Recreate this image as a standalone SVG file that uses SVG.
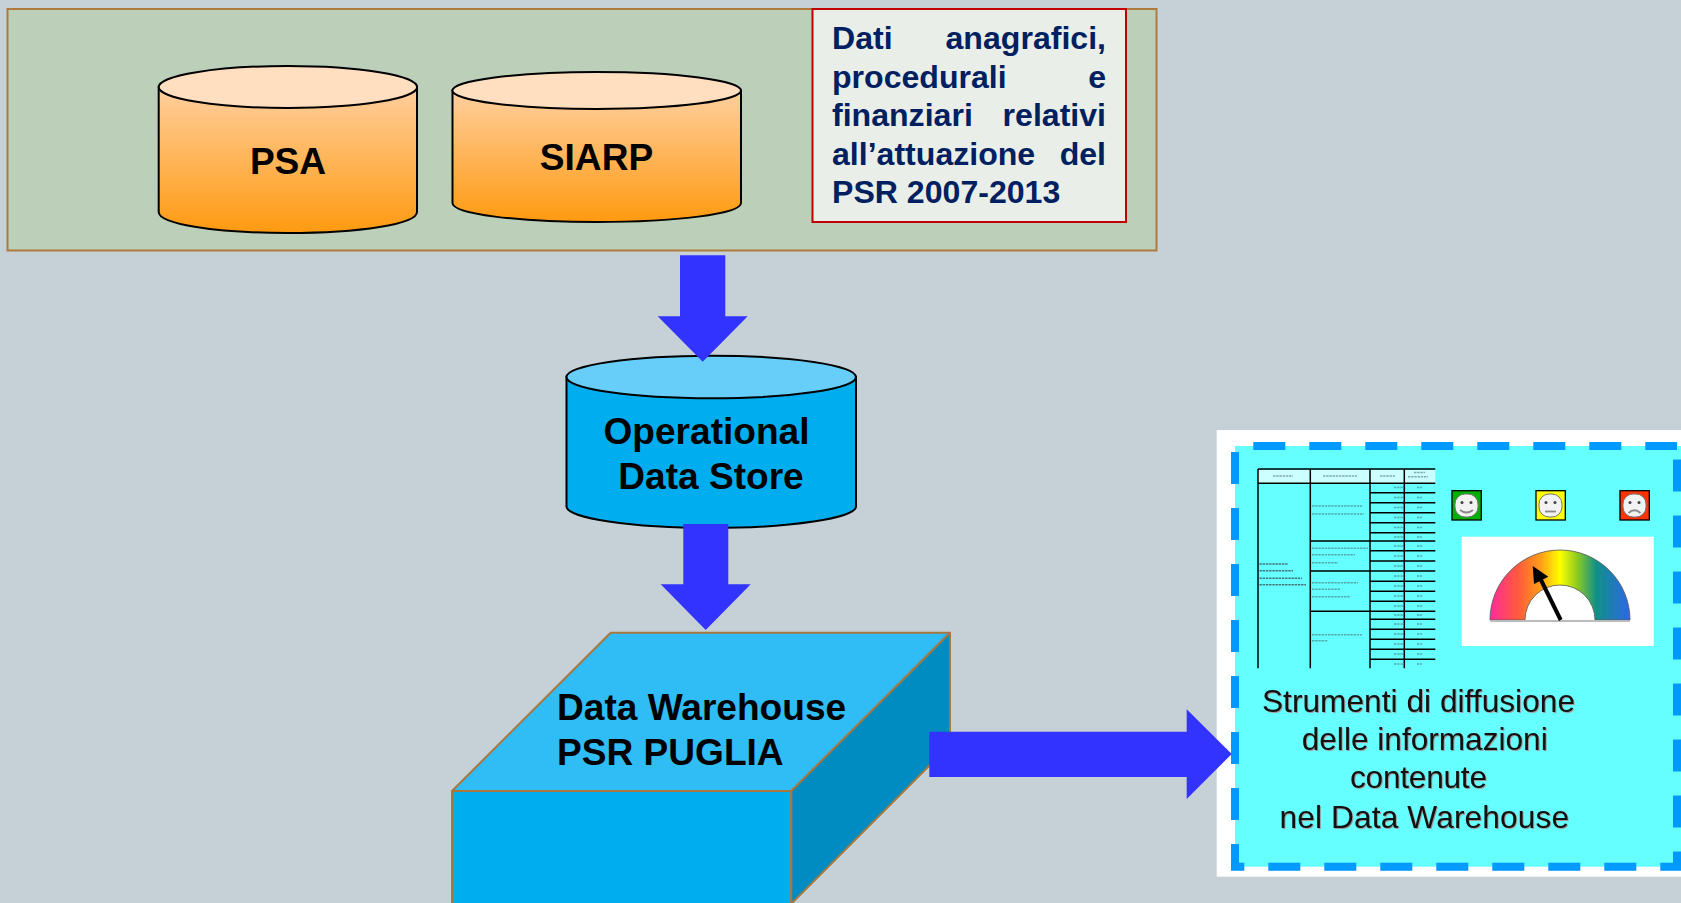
<svg xmlns="http://www.w3.org/2000/svg" width="1681" height="903" viewBox="0 0 1681 903">
<style>
text{font-family:"Liberation Sans",Arial,sans-serif}
.lbl{font-size:37.1px;font-weight:700;fill:#000}
.mid{text-anchor:middle}
.info{font-size:32.1px;font-weight:700;fill:#002060}
.cyl{stroke:#000;stroke-width:2}
.box{stroke:#a8773f;stroke-width:2;stroke-linejoin:round}
.arrow{fill:#3333ff}
.dash{fill:none;stroke:#0099ff;stroke-width:8;stroke-dasharray:32 24}
.grid{fill:none;stroke:#000;stroke-width:1.5}
.greek{fill:none;stroke:#3f666c;stroke-width:1.4;stroke-dasharray:2.4 .8;opacity:.55}
.smile{stroke:#000;stroke-width:1.3}
.face{fill:#f2f2f2;stroke:#777;stroke-width:1}
.eye{fill:#444}
.mouth{fill:none;stroke:#888;stroke-width:1.8}
.cap{font-size:31.6px;fill:#111;filter:drop-shadow(1px 1px 0.4px #999)}
.soft{filter:url(#soft)}
</style>
<defs>
<linearGradient id="org" x1="0" y1="0" x2="0" y2="1"><stop offset="0" stop-color="#ffcf9f"/><stop offset="1" stop-color="#ff9a10"/></linearGradient>
<linearGradient id="rain" gradientUnits="userSpaceOnUse" x1="1490" y1="0" x2="1630" y2="0">
<stop offset="0" stop-color="#ff2a9d"/><stop offset=".2" stop-color="#ff5a3c"/><stop offset=".36" stop-color="#ff9c18"/><stop offset=".5" stop-color="#ffff00"/><stop offset=".62" stop-color="#90cc20"/><stop offset=".76" stop-color="#109088"/><stop offset="1" stop-color="#2f66e8"/>
</linearGradient>
<filter id="soft" x="-5%" y="-5%" width="110%" height="110%"><feGaussianBlur stdDeviation="0.5"/></filter>
</defs>
<rect width="1681" height="903" fill="#c5d0d7"/>

<g id="panel-sources"><rect x="7.500" y="9" width="1149" height="241.500" fill="#bbcfb9" stroke="#b07a3c" stroke-width="2"/></g>

<g id="node-psa">
<path class="cyl" fill="url(#org)" d="M158.700 87V212C158.700 224 216 233 288 233S417 224 417 212V87Z"/>
<ellipse class="cyl" cx="287.900" cy="87" rx="129.200" ry="21" fill="#ffdfc0"/>
<text class="lbl mid" x="288" y="174">PSA</text>
</g>
<g id="node-siarp">
<path class="cyl" fill="url(#org)" d="M452.500 90.500V203C452.500 214 518 222 596.700 222S741 214 741 203V90.500Z"/>
<ellipse class="cyl" cx="596.700" cy="90.500" rx="144.300" ry="18.500" fill="#ffdfc0"/>
<text class="lbl mid" x="596.500" y="170">SIARP</text>
</g>
<g id="node-info">
<rect x="812.500" y="9" width="313.500" height="213" fill="#e9eee9" stroke="#c00000" stroke-width="2"/>
<text class="info" y="49.300"><tspan x="832">Dati </tspan><tspan x="1106" text-anchor="end">anagrafici,</tspan></text>
<text class="info" y="88"><tspan x="832">procedurali </tspan><tspan x="1106" text-anchor="end">e</tspan></text>
<text class="info" y="126"><tspan x="832">finanziari </tspan><tspan x="1106" text-anchor="end">relativi</tspan></text>
<text class="info" y="165"><tspan x="832">all’attuazione </tspan><tspan x="1106" text-anchor="end">del</tspan></text>
<text class="info" x="832" y="203.300">PSR 2007-2013</text>
</g>
<g id="node-ods">
<path class="cyl" fill="#00aeef" d="M566.500 377V506.500C566.500 518 631 528 711 528S856 518 856 506.500V377Z"/>
<ellipse class="cyl" cx="711.200" cy="377" rx="144.700" ry="21.300" fill="#66cef8"/>
<text class="lbl mid" x="706.500" y="444.200">Operational</text>
<text class="lbl mid" x="711" y="489.200">Data Store</text>
</g>
<g id="node-dw">
<polygon class="box" fill="#00aeef" points="452,791 791.300,791 791.300,910 452,910"/>
<polygon class="box" fill="#30bdf5" points="452,791 610.700,632.700 950,632.700 791.300,791"/>
<polygon class="box" fill="#008cc0" points="791.300,791 950,632.700 950,745 791.300,903.700"/>
<text class="lbl" x="557" y="720.200">Data Warehouse</text>
<text class="lbl" x="557" y="765.200">PSR PUGLIA</text>
</g>

<g id="node-tools">
<rect x="1216.700" y="430" width="464.300" height="446.700" fill="#fff"/>
<rect x="1235" y="446" width="446" height="420.700" fill="#66ffff"/>
<path class="dash" d="M1235 452V866.700H1677V446"/>
<path class="dash" d="M1253.300 446H1677"/>
<g id="table" class="soft">
<rect x="1258" y="470" width="177.300" height="13.300" fill="#ccffff"/>
<path class="grid" d="M1258 469H1435.300M1258 483.300H1435.300M1258 469V668.300M1310.300 469V668.300M1370 469V668.300M1404.300 469V668.300"/>
<path class="grid" d="M1310.300 541H1370M1310.300 571H1370M1310.300 611.300H1370"/>
<path class="grid" d="M1370 492.700H1435.300M1370 502.700H1435.300M1370 512.700H1435.300M1370 522.700H1435.300M1370 532.700H1435.300M1370 541H1435.300M1370 550.700H1435.300M1370 561H1435.300M1370 571H1435.300M1370 581.300H1435.300M1370 591.300H1435.300M1370 601.300H1435.300M1370 611.300H1435.300M1370 619.300H1435.300M1370 629.300H1435.300M1370 639.300H1435.300M1370 649.300H1435.300M1370 659.300H1435.300"/>
<path class="greek" d="M1273 476H1293M1323 476H1357M1380 476H1395M1408 476.700H1428M1414 472.500H1425"/>
<path class="greek" style="opacity:.9" d="M1259.500 564H1288M1259.500 570.700H1293M1259.500 578.300H1302M1259.500 584.700H1306"/>
<path class="greek" d="M1312 506H1362M1312 514H1364M1312 548.300H1368M1312 554.700H1355M1312 562.700H1338M1312 582.700H1358M1312 589.300H1340M1312 596.700H1350M1312 634.700H1362M1312 640.700H1328"/>
<path class="greek" d="M1394 487.500H1403M1394 497.500H1403M1394 507.500H1403M1394 517.500H1403M1394 527.500H1403M1394 537H1403M1394 546H1403M1394 556H1403M1394 566H1403M1394 576H1403M1394 586H1403M1394 596H1403M1394 606H1403M1394 615H1403M1394 624H1403M1394 634H1403M1394 644H1403M1394 654H1403M1394 664H1403"/>
<path class="greek" d="M1417 487.500H1422M1417 497.500H1422M1417 507.500H1422M1417 517.500H1422M1417 527.500H1422M1417 537H1422M1417 546H1422M1417 556H1422M1417 566H1422M1417 576H1422M1417 586H1422M1417 596H1422M1417 606H1422M1417 615H1422M1417 624H1422M1417 634H1422M1417 644H1422M1417 654H1422M1417 664H1422"/>
</g>
<g id="smileys" class="soft">
<rect class="smile" x="1452" y="490.700" width="29.300" height="29.300" fill="#00b000"/>
<rect class="face" x="1455" y="494" width="23" height="23" rx="10"/>
<circle class="eye" cx="1462" cy="502.500" r="1.500"/><circle class="eye" cx="1471" cy="502.500" r="1.500"/>
<path class="mouth" d="M1460 510Q1466.500 515 1473 510"/>
<rect class="smile" x="1536" y="490.700" width="29.300" height="29.300" fill="#ffff00"/>
<rect class="face" x="1539" y="494" width="23" height="23" rx="10"/>
<circle class="eye" cx="1546" cy="502.500" r="1.500"/><circle class="eye" cx="1555" cy="502.500" r="1.500"/>
<path class="mouth" d="M1545 511.500H1556"/>
<rect class="smile" x="1620" y="490.700" width="29.300" height="29.300" fill="#ff3300"/>
<rect class="face" x="1623" y="494" width="23" height="23" rx="10"/>
<circle class="eye" cx="1630" cy="502.500" r="1.500"/><circle class="eye" cx="1639" cy="502.500" r="1.500"/>
<path class="mouth" d="M1628.500 513Q1634.500 507.500 1640.500 513"/>
</g>
<g id="gauge">
<rect x="1461.700" y="536.700" width="192" height="109.300" fill="#fff"/>
<g class="soft">
<path d="M1490 620A70 70 0 0 1 1630 620H1595A35 35 0 0 0 1525 620Z" fill="url(#rain)" stroke="#555" stroke-width=".8"/>
<path d="M1490 621H1630" stroke="#bbb" stroke-width="2"/>
<path d="M1560.700 620L1541 580" stroke="#000" stroke-width="4"/>
<polygon points="1532.700,566 1548.300,576.700 1534,584" fill="#000"/>
</g>
</g>
<g id="caption">
<text class="cap" x="1262" y="711.700" textLength="313">Strumenti di diffusione</text>
<text class="cap" x="1301.700" y="750" textLength="246">delle informazioni</text>
<text class="cap" x="1350" y="788.300" textLength="137">contenute</text>
<text class="cap" x="1279.500" y="828.300" textLength="289.500">nel Data Warehouse</text>
</g>
</g>

<g id="connectors">
<polygon class="arrow" points="680,255.300 725.300,255.300 725.300,316.300 747.700,316.300 702.700,361.700 657.700,316.300 680,316.300"/>
<polygon class="arrow" points="683.300,524 728.300,524 728.300,584.300 750.700,584.300 705.700,630 660.700,584.300 683.300,584.300"/>
<polygon class="arrow" points="929.300,731.700 1186.700,731.700 1186.700,709.300 1231.700,754 1186.700,799 1186.700,777 929.300,777"/>
</g>
</svg>
